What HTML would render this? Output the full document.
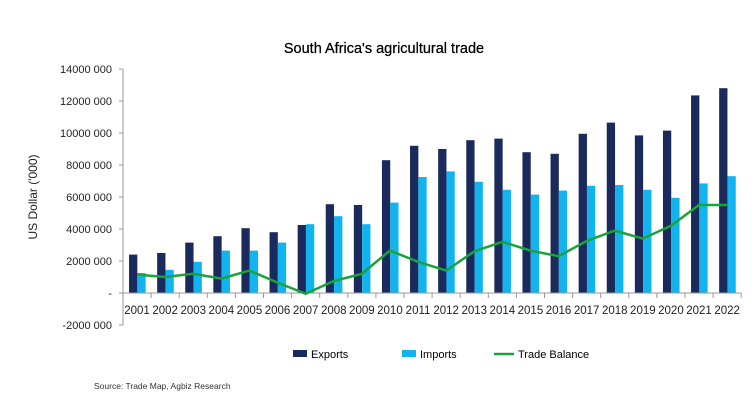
<!DOCTYPE html>
<html><head><meta charset="utf-8"><style>
body{margin:0;background:#fff;font-family:"Liberation Sans",sans-serif;}
text{font-family:"Liberation Sans",sans-serif;}
</style></head><body>
<svg width="754" height="408" id="c">
<text x="384" y="53" text-anchor="middle" font-size="14.5" fill="#000" stroke="#000" stroke-width="0.25">South Africa's agricultural trade</text>
<text transform="translate(37,197) rotate(-90)" text-anchor="middle" font-size="12" fill="#222">US Dollar ('000)</text>
<g id="plot"></g>
<g>
<rect x="293" y="350" width="14" height="7" fill="#1b2a5c"/>
<text x="311" y="358" font-size="11">Exports</text>
<rect x="402" y="350" width="14" height="7" fill="#12b4f0"/>
<text x="420" y="358" font-size="11">Imports</text>
<line x1="494" y1="354" x2="514" y2="354" stroke="#1aa33a" stroke-width="2.5"/>
<text x="518" y="358" font-size="11">Trade Balance</text>
</g>
<text x="94" y="389" font-size="8.5" fill="#333">Source: Trade Map, Agbiz Research</text>
</svg>
<script>
const years=["2001","2002","2003","2004","2005","2006","2007","2008","2009","2010","2011","2012","2013","2014","2015","2016","2017","2018","2019","2020","2021","2022"];
const exportsV=[2400,2500,3150,3550,4050,3800,4250,5550,5500,8300,9200,9000,9550,9650,8800,8700,9950,10650,9850,10150,12350,12800];
const importsV=[1250,1450,1950,2650,2650,3150,4300,4800,4300,5650,7250,7600,6950,6450,6150,6400,6700,6750,6450,5950,6850,7300];
const balanceV=[1150,1000,1200,900,1400,650,-50,750,1200,2650,1950,1400,2600,3200,2650,2300,3250,3900,3400,4200,5500,5500];
const yTicks=[-2000,0,2000,4000,6000,8000,10000,12000,14000];
const yTickLabels=["-2000 000","-","2000 000","4000 000","6000 000","8000 000","10000 000","12000 000","14000 000"];
const NS="http://www.w3.org/2000/svg",g=document.getElementById('plot');
const x0=123,cw=28.1,y=v=>293-v*0.016;
const cx=i=>x0+cw*(i+0.5);
function mk(t,a){const e=document.createElementNS(NS,t);for(const k in a)e.setAttribute(k,a[k]);g.appendChild(e);return e;}
let e=mk('line',{x1:x0,y1:y(14000),x2:x0,y2:y(-2000),stroke:'#999'});


yTicks.forEach((t,i)=>{
 let l=mk('line',{x1:x0-4,y1:y(t),x2:x0,y2:y(t),stroke:'#999'});
 
 
 let tx=mk('text',{x:x0-11,y:y(t)+4,'text-anchor':'end','font-size':'11',fill:'#222'});tx.textContent=yTickLabels[i];
 
 
});
years.forEach((yr,i)=>{
 let b=mk('rect',{x:cx(i)-8,y:y(exportsV[i]),width:8.3,height:y(0)-y(exportsV[i]),fill:'#1b2a5c'});
 
 
 let c=mk('rect',{x:cx(i)+0.3,y:y(importsV[i]),width:8.3,height:y(0)-y(importsV[i]),fill:'#12b4f0'});
 
 
 let tk=mk('line',{x1:x0+cw*(i+1),y1:y(0),x2:x0+cw*(i+1),y2:y(0)+5,stroke:'#999'});
 
 
 let t=mk('text',{x:cx(i),y:314,'text-anchor':'middle','font-size':'11.5',fill:'#222'});t.textContent=yr;
 
 
});
e=mk('line',{x1:x0,y1:y(0),x2:x0+cw*22,y2:y(0),stroke:'#999'});


e=mk('polyline',{points:balanceV.map((v,i)=>cx(i)+','+y(v)).join(' '),fill:'none',stroke:'#1aa33a','stroke-width':2.5});


</script>
</body></html>
